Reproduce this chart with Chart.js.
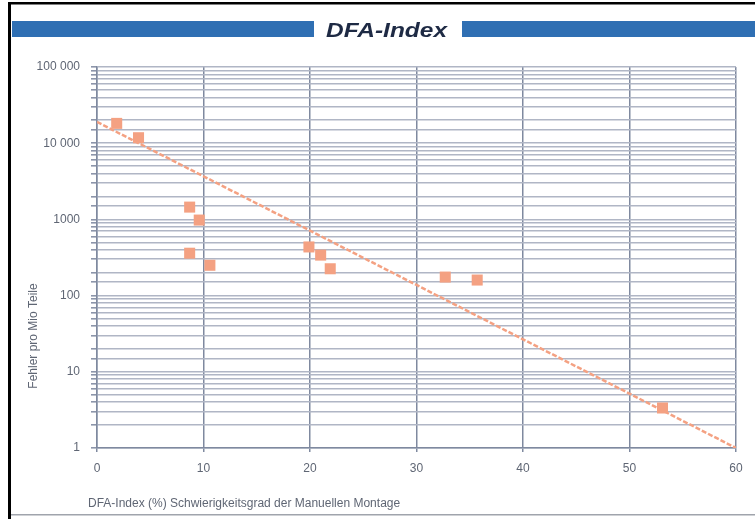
<!DOCTYPE html>
<html>
<head>
<meta charset="utf-8">
<script src="https://cdn.jsdelivr.net/npm/chart.js@4/dist/chart.umd.min.js"></script>
<style>
html,body{margin:0;padding:0;background:#fff;}
#wrap{position:relative;width:755px;height:519px;}
</style>
</head>
<body>
<div id="wrap"><canvas id="c" width="755" height="519"></canvas></div>
<script>
// Data
const dfaIndex = [1.85, 3.9, 8.7, 9.6, 8.7, 10.6, 19.9, 21.0, 21.9, 32.7, 35.7, 53.1];
const fehler   = [18200, 11800, 1450, 980, 360, 250, 435, 340, 225, 175, 160, 3.35];
const trendX = [0, 60];
const trendY = [19000, 1];
const xTicks = [0, 10, 20, 30, 40, 50, 60];
const yTickValues = [1, 10, 100, 1000, 10000, 100000];
const yTickLabels = ['1', '10', '100', '1000', '10 000', '100 000'];
const chartTitle = 'DFA-Index';
const xTitle = 'DFA-Index (%) Schwierigkeitsgrad der Manuellen Montage';
const yTitle = 'Fehler pro Mio Teile';

const salmon = '#f4a182';
const blue = '#2f6fb3';

const framePlugin = {
  id: 'frame',
  beforeDraw(chart) {
    const ctx = chart.ctx;
    ctx.save();
    ctx.fillStyle = '#fff';
    ctx.fillRect(0, 0, chart.width, chart.height);
    // frame
    ctx.fillStyle = '#000';
    ctx.fillRect(8, 2, 3, 517);
    ctx.fillRect(8, 2, 747, 2.5);
    ctx.fillStyle = '#a0a4ac';
    ctx.fillRect(11, 514, 744, 1.5);
    // title bars
    ctx.fillStyle = blue;
    ctx.fillRect(12, 21, 302, 16);
    ctx.fillRect(462, 21, 293, 16);
    // title text
    ctx.fillStyle = '#1e2a44';
    ctx.font = 'italic bold 20px "Liberation Sans", Arial, sans-serif';
    ctx.textAlign = 'left';
    ctx.textBaseline = 'alphabetic';
    const w = ctx.measureText(chartTitle).width;
    const target = 121;
    ctx.translate(326, 37);
    ctx.scale(target / w, 1);
    ctx.fillText(chartTitle, 0, 0);
    ctx.restore();
  },
  afterDraw(chart) {
    const ctx = chart.ctx;
    ctx.save();
    ctx.fillStyle = '#5f6674';
    ctx.font = '12px "Liberation Sans", Arial, sans-serif';
    ctx.textBaseline = 'middle';
    ctx.textAlign = 'left';
    ctx.fillText(xTitle, 88, 504);
    ctx.translate(34, 336);
    ctx.rotate(-Math.PI / 2);
    ctx.textAlign = 'center';
    ctx.fillText(yTitle, 0, 0);
    ctx.restore();
  }
};

new Chart(document.getElementById('c'), {
  type: 'scatter',
  data: {
    datasets: [
      {
        label: 'Messwerte',
        data: dfaIndex.map((x, i) => ({ x: x, y: fehler[i] })),
        pointStyle: 'rect',
        pointRadius: 7.8,
        pointHoverRadius: 7.8,
        backgroundColor: salmon,
        borderColor: salmon,
        borderWidth: 0,
        showLine: false
      },
      {
        type: 'line',
        label: 'Trend',
        data: trendX.map((x, i) => ({ x: x, y: trendY[i] })),
        borderColor: salmon,
        borderWidth: 2.5,
        borderDash: [5, 2],
        pointRadius: 0,
        fill: false,
        tension: 0
      }
    ]
  },
  options: {
    responsive: false,
    animation: false,
    events: [],
    layout: { padding: { left: 0, top: 67, right: 19, bottom: 0 } },
    plugins: {
      legend: { display: false },
      tooltip: { enabled: false },
      title: { display: false }
    },
    scales: {
      x: {
        type: 'linear',
        min: 0,
        max: 60,
        afterFit(s) { s.height = 71; },
        afterBuildTicks(s) { s.ticks = xTicks.map(v => ({ value: v })); },
        ticks: {
          color: '#5f6674',
          font: { family: '"Liberation Sans", Arial, sans-serif', size: 12 },
          padding: 9,
          maxRotation: 0,
          autoSkip: false
        },
        grid: { color: '#7f899f', lineWidth: 1.5, tickLength: 4, tickColor: '#7f899f' },
        border: { color: '#7f899f', width: 1.5 }
      },
      y: {
        type: 'logarithmic',
        min: 1,
        max: 100000,
        afterFit(s) { s.width = 97; },
        ticks: {
          color: '#5f6674',
          font: { family: '"Liberation Sans", Arial, sans-serif', size: 12 },
          padding: 11,
          autoSkip: false,
          callback(v) {
            const i = yTickValues.indexOf(v);
            return i >= 0 ? yTickLabels[i] : '';
          }
        },
        grid: {
          color: '#b0b6c5',
          lineWidth: 1.6,
          tickLength: 6,
          tickColor: '#8c95aa'
        },
        border: { color: '#7f899f', width: 1.5 }
      }
    }
  },
  plugins: [framePlugin]
});
</script>
</body>
</html>
